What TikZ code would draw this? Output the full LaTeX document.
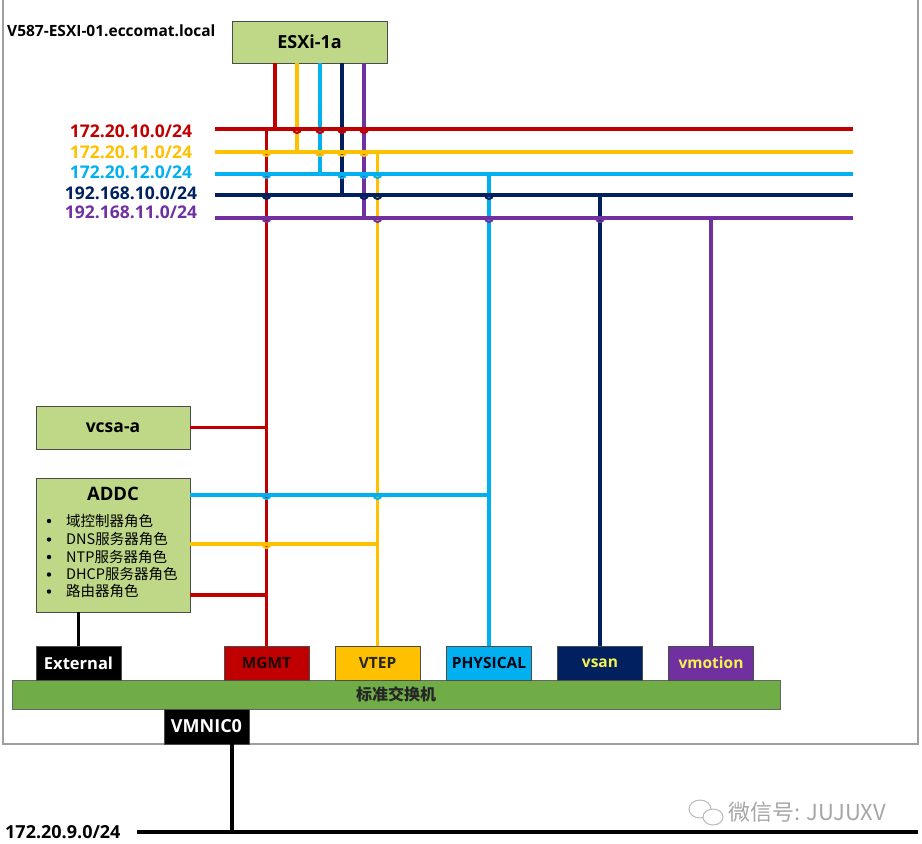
\documentclass[tikz,border=0pt]{standalone}
\usepackage{fontspec}
\setmainfont{Open Sans}
\newfontfamily\cjk{Noto Sans CJK SC}
\definecolor{cred}{HTML}{C00000}
\definecolor{cyel}{HTML}{FFC000}
\definecolor{ccya}{HTML}{00B0F0}
\definecolor{cnav}{HTML}{002060}
\definecolor{cpur}{HTML}{7030A0}
\definecolor{boxg}{HTML}{BFD887}
\definecolor{swg}{HTML}{70AD47}
\definecolor{ptxt}{HTML}{F6F250}
\tikzset{
  net/.style={line width=3.3pt},
  gbox/.style={draw=black!70, line width=0.9pt, fill=boxg, inner sep=0pt},
  port/.style={draw=black!70, line width=0.9pt, minimum width=85pt, minimum height=34pt, inner sep=0pt, font=\bfseries\fontsize{15.5}{18}\selectfont},
  lbl/.style={font=\bfseries\fontsize{17.5}{20}\selectfont, inner sep=0pt},
  item/.style={anchor=west, inner sep=0pt, font=\cjk\fontsize{14.5}{16}\selectfont},
  hopr/.style={line width=2pt}
}
\newcommand{\hopat}[3]{\draw[hopr,#3] (#1-4,#2) arc (180:0:4);}
\begin{document}
\begin{tikzpicture}[x=1pt,y=-1pt]
\useasboundingbox (0,0) rectangle (922,844);
% frame
\draw[gray!75, line width=1.2pt] (3,-5) -- (3,744) -- (918,744) -- (918,-5);
\node[anchor=west, inner sep=0pt, font=\bfseries\fontsize{15.5}{18}\selectfont] (host) at (7,31) {V587-ESXI-01.eccomat.local};
% ESXi box
\node[gbox, minimum width=155pt, minimum height=42pt, font=\bfseries\fontsize{18}{21}\selectfont] (esxi) at (309.5,42) {ESXi-1a};
% network labels
\node[lbl, text=cred] (l1) at (131,131) {172.20.10.0/24};
\node[lbl, text=cyel] (l2) at (131,152) {172.20.11.0/24};
\node[lbl, text=ccya] (l3) at (131,172) {172.20.12.0/24};
\node[lbl, text=cnav] (l4) at (131,193) {192.168.10.0/24};
\node[lbl, text=cpur] (l5) at (131,212) {192.168.11.0/24};
% network line endpoints
\coordinate (nL1) at (215,129); \coordinate (nR1) at (853,129);
\coordinate (nL2) at (215,152); \coordinate (nR2) at (853,152);
\coordinate (nL3) at (215,174); \coordinate (nR3) at (853,174);
\coordinate (nL4) at (215,195); \coordinate (nR4) at (853,195);
\coordinate (nL5) at (215,218); \coordinate (nR5) at (853,218);
% ESXi taps
\coordinate (t1) at (275,129);
\coordinate (t2) at (297,152);
\coordinate (t3) at (320,174);
\coordinate (t4) at (342,195);
\coordinate (t5) at (364,218);
% VM boxes
\node[gbox, minimum width=154pt, minimum height=43pt, font=\bfseries\fontsize{17.5}{20}\selectfont] (vcsa) at (113,427.5) {vcsa-a};
\node[gbox, minimum width=154pt, minimum height=134pt] (addc) at (113,545) {};
\node[inner sep=0pt, font=\bfseries\fontsize{18.5}{21}\selectfont] (addct) at (113,494) {ADDC};
\foreach \t/\yy [count=\i] in {域控制器角色/521, DNS服务器角色/539.5, NTP服务器角色/557, DHCP服务器角色/574.5, 路由器角色/591.5}{
  \fill (49,\yy) circle (2.2pt);
  \node[item] (it\i) at (66,\yy) {\t};
}
% switch and ports
\node[draw=black!60, line width=0.9pt, fill=swg, minimum width=768pt, minimum height=29pt, inner sep=0pt, font=\cjk\bfseries\fontsize{16}{18}\selectfont, text=black!85] (sw) at (396,694.5) {标准交换机};
\node[port, fill=black, text=white, font=\bfseries\fontsize{16.5}{19}\selectfont] (ext) at (78.5,663) {External};
\node[port, fill=cred, text=black!85!cred] (mgmt) at (266.5,663) {MGMT};
\node[port, fill=cyel, text=black!85] (vtep) at (377.5,663) {VTEP};
\node[port, fill=ccya, text=black!80!cnav] (phys) at (489,663) {PHYSICAL};
\node[port, fill=cnav, text=ptxt] (vsan) at (600,663) {vsan};
\node[port, fill=cpur, text=ptxt] (vmot) at (711,663) {vmotion};
\node[port, fill=black, text=white, minimum height=35pt, font=\bfseries\fontsize{18}{20}\selectfont] (vmnic) at (206.5,726.5) {VMNIC0};
% verticals from ESXi
\draw[net,cred] (t1 |- esxi.south) -- (t1);
\draw[net,cyel] (t2 |- esxi.south) -- (t2);
\draw[net,ccya] (t3 |- esxi.south) -- (t3);
\draw[net,cnav] (t4 |- esxi.south) -- (t4);
\draw[net,cpur] (t5 |- esxi.south) -- (t5);
% verticals to ports
\draw[net,cred] (mgmt.north) -- (mgmt.north |- nL1);
\draw[net,cyel] (vtep.north) -- (vtep.north |- nL2);
\draw[net,ccya] (phys.north) -- (phys.north |- nL3);
\draw[net,cnav] (vsan.north) -- (vsan.north |- nL4);
\draw[net,cpur] (vmot.north) -- (vmot.north |- nL5);
% horizontal networks
\draw[net,cred] (nL1) -- (nR1);
\draw[net,cyel] (nL2) -- (nR2);
\draw[net,ccya] (nL3) -- (nR3);
\draw[net,cnav] (nL4) -- (nR4);
\draw[net,cpur] (nL5) -- (nR5);
% VM links
\coordinate (a1) at (190,495);
\coordinate (a2) at (190,544);
\coordinate (a3) at (190,595);
\draw[net,cred] (vcsa.east) -- (vcsa.east -| mgmt.north);
\draw[net,ccya] (a1) -- (a1 -| phys.north);
\draw[net,cyel] (a2) -- (a2 -| vtep.north);
\draw[net,cred] (a3) -- (a3 -| mgmt.north);
% hops
\foreach \x in {297,320,342,364} {\hopat{\x}{129}{cred}}
\foreach \x in {266.5,320,342,364} {\hopat{\x}{152}{cyel}}
\foreach \x in {266.5,342,364,377.5} {\hopat{\x}{174}{ccya}}
\foreach \x in {266.5,364,377.5,489} {\hopat{\x}{195}{cnav}}
\foreach \x in {266.5,377.5,489,600} {\hopat{\x}{218}{cpur}}
\foreach \x in {266.5,377.5} {\hopat{\x}{495}{ccya}}
\hopat{266.5}{544}{cyel}
% external and uplink
\draw[net,black] (addc.south -| ext.north) -- (ext.north);
\coordinate (vm) at (232,744);
\coordinate (netL) at (137,832);
\coordinate (netR) at (918,832);
\draw[net,black] (vm) -- (vm |- netL);
\draw[net,black] (netL) -- (netR);
\node[anchor=west, inner sep=0pt, font=\bfseries\fontsize{18}{20}\selectfont] (up) at (5,832) {172.20.9.0/24};
% watermark
\draw[gray!55, line width=1pt] (700,809) ellipse (11pt and 9pt);
\draw[gray!55, line width=1pt, fill=white] (713,817) ellipse (10pt and 8pt);
\node[anchor=west, inner sep=0pt, text=gray!70, font=\cjk\fontsize{22}{24}\selectfont] (wm) at (728,812) {微信号: JUJUXV};
\end{tikzpicture}
\end{document}
